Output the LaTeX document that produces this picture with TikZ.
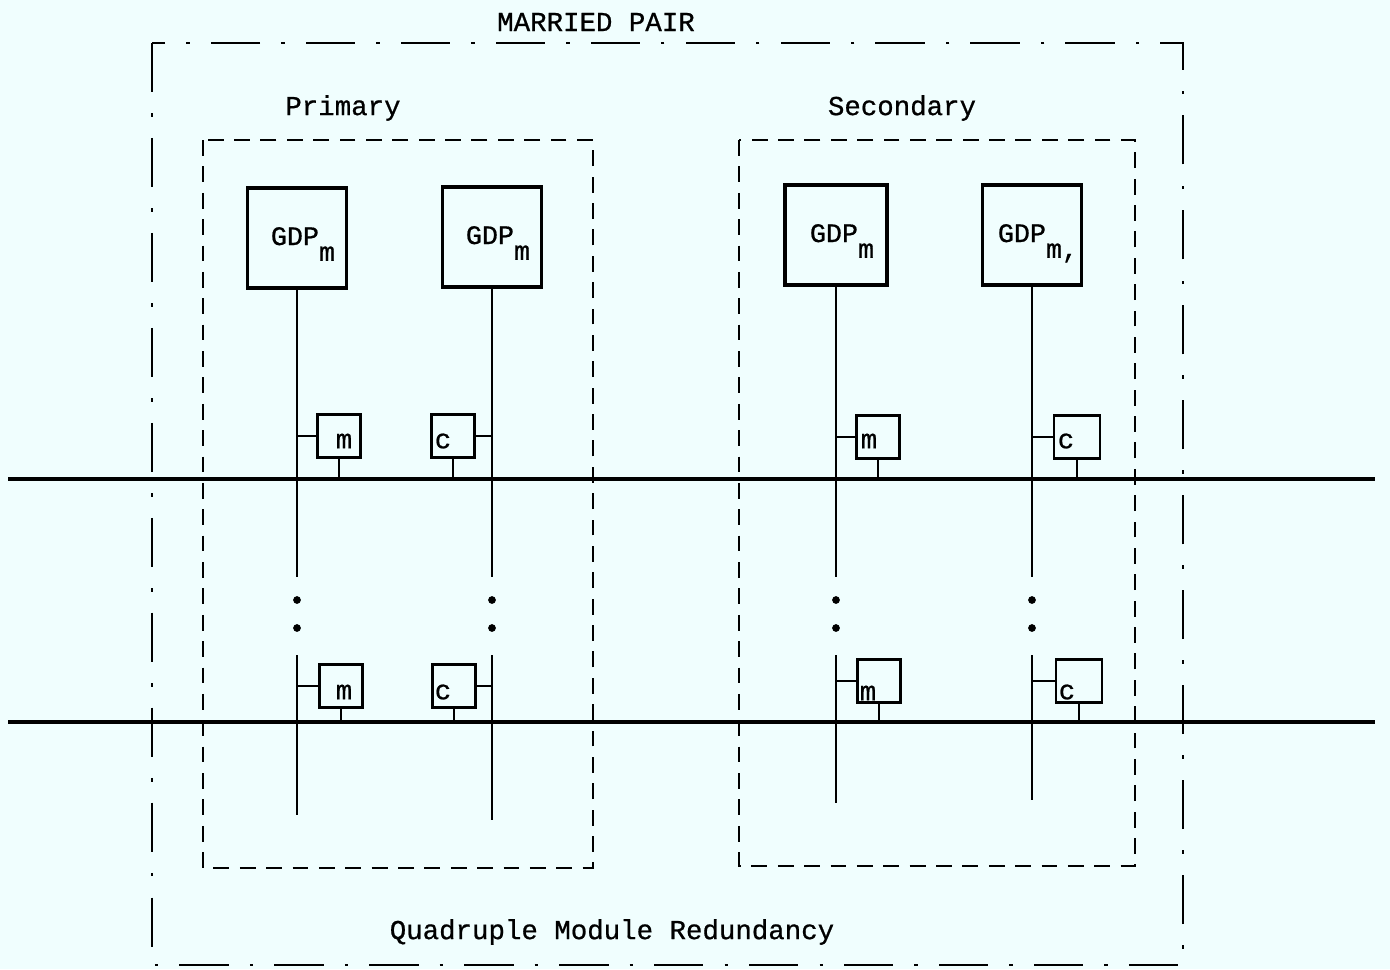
\documentclass[tikz,border=0pt]{standalone}
\usepackage{fontspec}
\setmonofont[FakeBold=0.7]{Liberation Mono}
\usepackage{tikz}
\usetikzlibrary{calc}
\definecolor{scanbg}{RGB}{240,254,254}
\tikzset{gdp/.style={draw,line width=1.1pt,minimum width=.99cm,minimum height=1cm,inner sep=0pt,text depth=1.1pt,font=\ttfamily\fontsize{7.6}{9}\selectfont,execute at begin node={\hspace*{3.4pt}}},
reg/.style={draw,line width=.6pt,minimum size=.43cm,inner sep=0pt},
tt/.style={font=\ttfamily\fontsize{7.8}{9}\selectfont,inner sep=0pt},
wire/.style={line width=.6pt},
bus/.style={line width=.9pt},
grp/.style={line width=.55pt,dash pattern=on 4.5pt off 3pt},
pair/.style={line width=.55pt,dash pattern=on 14pt off 6pt on 1pt off 6pt}}
\newcommand{\gdpsub}[1]{GDP\raisebox{-4.5pt}{#1}}
\begin{document}
\begin{tikzpicture}[x=.01cm,y=-.01cm]
\fill[scanbg](0,0)rectangle(1390,969);\useasboundingbox(0,0)rectangle(1390,969);
% married pair and the two groups
\draw[pair](152,43)rectangle(1183,965);\node[tt](mp)at(596,22){MARRIED PAIR};
\draw[grp](203,140)rectangle(593,868);\node[tt](prim)at(343,108){Primary};
\draw[grp](739,140)rectangle(1135,866);\node[tt](sec)at(902,108){Secondary};
\node[tt](qmr)at(612,932){Quadruple Module Redundancy};
% buses
\coordinate(b1w)at(8,479);\coordinate(b1e)at(1375,479);\draw[bus](b1w)--(b1e);
\coordinate(b2w)at(8,722);\coordinate(b2e)at(1375,722);\draw[bus](b2w)--(b2e);
% processors
\node[gdp](g1)at(297,238){\gdpsub{m}};\node[gdp](g2)at(492,237){\gdpsub{m}};
\node[gdp,minimum width=1.02cm](g3)at(836,235){\gdpsub{m}};\node[gdp](g4)at(1032,235){\gdpsub{m,}};
\coordinate(cut)at(0,577);\coordinate(res)at(0,655);\coordinate(d1)at(0,600);\coordinate(d2)at(0,628);
\foreach \g/\e in {g1/815,g2/820,g3/803,g4/800}{
\draw[wire](\g.south)--(\g.south |- cut);
\fill(\g.south |- d1)circle(1.1pt);\fill(\g.south |- d2)circle(1.1pt);
\draw[wire](\g.south |- res)--++(0,{\e-655});}
% interfaces on bus 1
\node[reg](pm1)at(339,436){};\node[tt]at(344,441){m};
\node[reg](pc1)at(453,436){};\node[tt]at(443,441){c};
\node[reg](sm1)at(878,437){};\node[tt]at(869,441){m};
\node[reg,minimum width=.46cm](sc1)at(1077,437){};\node[tt]at(1066,441){c};
% interfaces on bus 2
\node[reg](pm2)at(341,686){};\node[tt]at(344,692){m};
\node[reg](pc2)at(454,686){};\node[tt]at(443,692){c};
\node[reg](sm2)at(879,681){};\node[tt]at(868,693){m};
\node[reg,minimum width=.46cm](sc2)at(1079,681){};\node[tt]at(1067,692){c};
\draw[wire](pm1.west)--(pm1.west -| g1.south);\draw[wire](pm1.south)--(pm1.south |- b1w);
\draw[wire](pc1.east)--(pc1.east -| g2.south);\draw[wire](pc1.south)--(pc1.south |- b1w);
\draw[wire](sm1.west)--(sm1.west -| g3.south);\draw[wire](sm1.south)--(sm1.south |- b1w);
\draw[wire](sc1.west)--(sc1.west -| g4.south);\draw[wire](sc1.south)--(sc1.south |- b1w);
\draw[wire](pm2.west)--(pm2.west -| g1.south);\draw[wire](pm2.south)--(pm2.south |- b2w);
\draw[wire](pc2.east)--(pc2.east -| g2.south);\draw[wire](pc2.south)--(pc2.south |- b2w);
\draw[wire](sm2.west)--(sm2.west -| g3.south);\draw[wire](sm2.south)--(sm2.south |- b2w);
\draw[wire](sc2.west)--(sc2.west -| g4.south);\draw[wire](sc2.south)--(sc2.south |- b2w);
\end{tikzpicture}
\end{document}
